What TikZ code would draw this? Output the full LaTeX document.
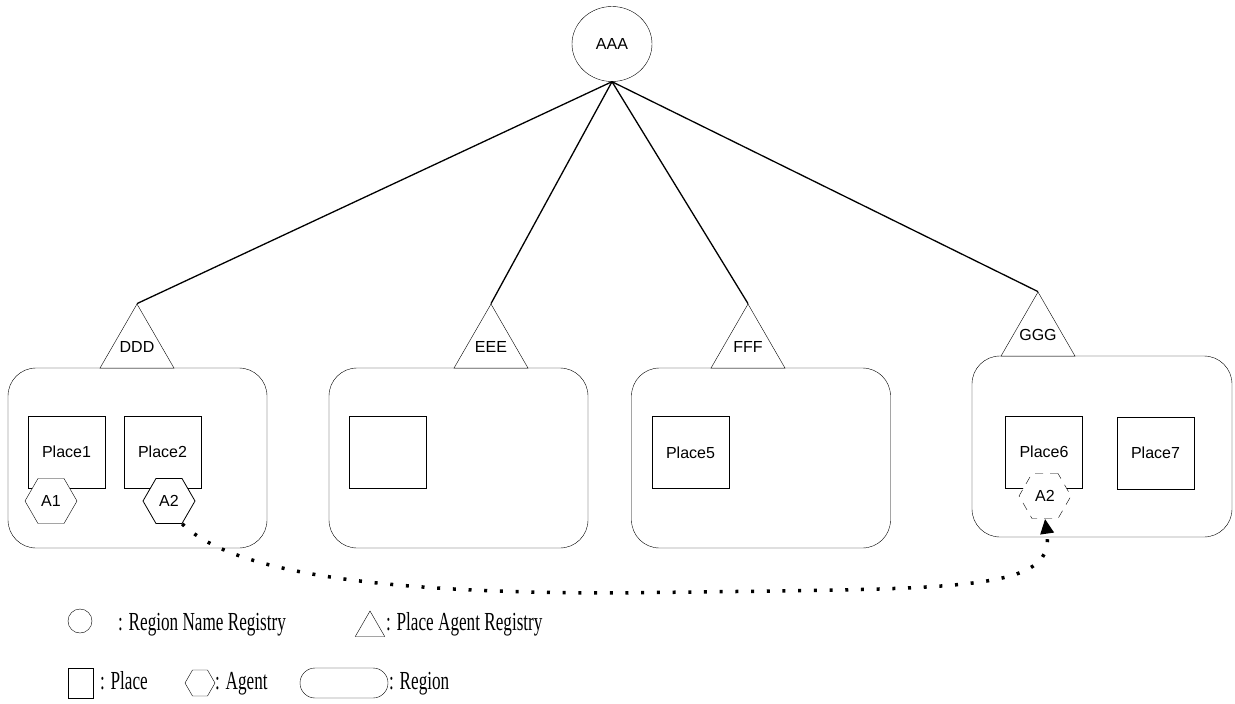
\documentclass[tikz,border=0pt]{standalone}
\usepackage{fontspec}
\setmainfont{Liberation Sans}
\newfontfamily\legendfont{Liberation Serif}[FakeStretch=0.66]
\usepackage{tikz}
\usetikzlibrary{arrows.meta,shapes.geometric}

\begin{document}
\begin{tikzpicture}[x=1pt, y=-1pt,
  every node/.style={font=\fontsize{16}{19}\selectfont},
  region/.style={draw, rounded corners=28pt, minimum width=259pt, minimum height=180pt},
  place/.style={draw, minimum width=77pt, minimum height=72pt, inner sep=0pt},
  agent/.style={draw, fill=white, regular polygon, regular polygon sides=6,
    minimum size=52pt, inner sep=0pt},
  registry/.style={draw, fill=white, regular polygon, regular polygon sides=3,
    minimum size=85.4pt, inner sep=0pt},
  legendtext/.style={anchor=base west, inner sep=0pt, font=\legendfont\fontsize{26}{28}\selectfont},
]
\useasboundingbox (0,0) rectangle (1235,704);

% regions
\node[region] (r1) at (137.5,458) {};
\node[region] (r2) at (458.5,458) {};
\node[region] (r3) at (761,458) {};
\node[region, minimum width=260pt, minimum height=181pt] (r4) at (1102,446.5) {};

% places
\node[place] (p1) at (66.5,452) {Place1};
\node[place] (p2) at (162.5,452) {Place2};
\node[place] (p3) at (388,452.5) {};
\node[place] (p5) at (690.5,452.5) {Place5};
\node[place] (p6) at (1044,452) {Place6};
\node[place] (p7) at (1155.5,453) {Place7};

% agents
\node[agent] (a1) at (51,501) {A1};
\node[agent, thick] (a2) at (169,501) {A2};
\node[agent, dash pattern=on 8pt off 7pt] (a2new) at (1045,496) {A2};

% registries
\node[ellipse, draw, minimum width=80pt, minimum height=75pt] (aaa) at (612,44) {AAA};
\node[registry] (ddd) at (137,346.7) {\makebox[0pt]{DDD}};
\node[registry] (eee) at (491,346.7) {\makebox[0pt]{EEE}};
\node[registry] (fff) at (748,346.7) {\makebox[0pt]{FFF}};
\node[registry] (ggg) at (1038,334.7) {\makebox[0pt]{GGG}};

\foreach \r in {ddd,eee,fff,ggg}
  \draw[line width=1.3pt] (aaa.south) -- (\r.corner 1);

% migration of A2
\draw[line width=3.5pt, dash pattern=on 3pt off 12.7pt,
  -{Triangle[length=15pt,width=13pt]}]
  (a2.-60) .. controls (240,580) and (420,593) .. (620,593)
  .. controls (950,588) and (1056,595) .. (a2new.south);

% legend
\node[draw, circle, minimum size=24pt, inner sep=0pt] (lcircle) at (80,621) {};
\node[legendtext] (lcircletext) at (118,630) {: Region Name Registry};
\node[draw, regular polygon, regular polygon sides=3, minimum size=34pt, inner sep=0pt] (ltri) at (370,628) {};
\node[legendtext] (ltritext) at (386,630) {: Place Agent Registry};
\node[draw, minimum width=25pt, minimum height=30pt, inner sep=0pt] (lsquare) at (80.5,683) {};
\node[legendtext] (lsquaretext) at (100,689) {: Place};
\node[draw, regular polygon, regular polygon sides=6,
  minimum size=30pt, inner sep=0pt] (lhex) at (200,683) {};
\node[legendtext] (lhextext) at (215,689) {: Agent};
\node[draw, rounded corners=15pt, minimum width=88pt, minimum height=30pt] (lregion) at (344,683) {};
\node[legendtext] (lregiontext) at (389,689) {: Region};
\end{tikzpicture}
\end{document}
